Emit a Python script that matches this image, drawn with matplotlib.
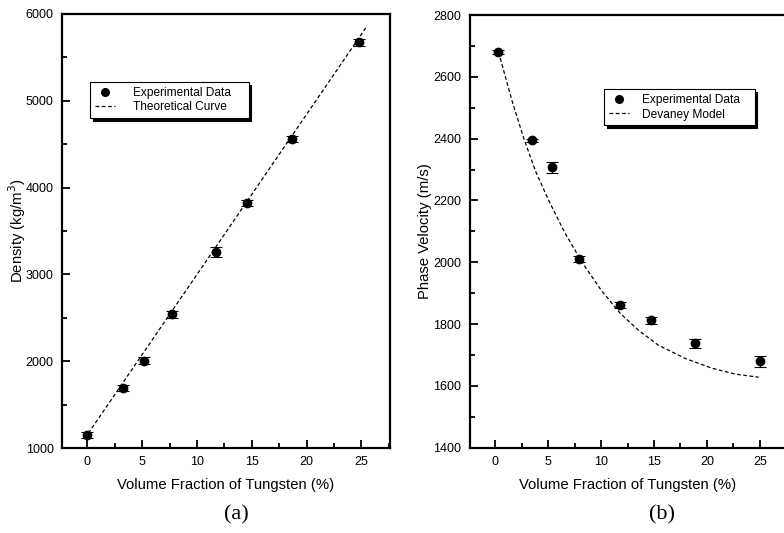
import matplotlib
matplotlib.use("Agg")
import matplotlib.pyplot as plt
from matplotlib.lines import Line2D
from matplotlib.ticker import MultipleLocator

plt.rcParams['font.family'] = ['Liberation Sans', 'DejaVu Sans']

# (a) density vs volume fraction
dens_x = [0.0, 3.3, 5.15, 7.75, 11.7, 14.6, 18.7, 24.8]
dens_y = [1150, 1695, 2005, 2540, 3260, 3826, 4556, 5674]
dens_err = [40, 35, 40, 40, 60, 35, 35, 40]
theory_x = [0.1, 25.4]
theory_y = [1170, 5842]

# (b) phase velocity vs volume fraction
vel_x = [0.23, 3.5, 5.33, 7.9, 11.8, 14.75, 18.9, 25.05]
vel_y = [2680, 2394, 2307, 2010, 1861, 1812, 1738, 1680]
vel_err = [6, 6, 18, 10, 10, 12, 15, 18]
dev_x = [0.3, 0.6, 1.6, 2.7, 3.8, 5.05, 6.5, 8.2, 10.0, 11.8, 13.6, 15.4, 18.0, 20.5, 22.7, 24.9]
dev_y = [2680, 2644, 2520, 2400, 2295, 2200, 2100, 2000, 1910, 1835, 1778, 1732, 1688, 1657, 1638, 1628]

xlabel = 'Volume Fraction of Tungsten (%)'

fig = plt.figure(figsize=(7.84, 5.33), dpi=100)
ax1 = fig.add_axes([62/784, 1-448/533, 328/784, 434/533])
ax2 = fig.add_axes([469.7/784, 1-447.7/533, 316.3/784, 432.7/533])

dash = (0, (3, 2))


def style_axes(ax, ymajor, yminor):
    ax.xaxis.set_major_locator(MultipleLocator(5))
    ax.xaxis.set_minor_locator(MultipleLocator(2.5))
    ax.yaxis.set_major_locator(MultipleLocator(ymajor))
    ax.yaxis.set_minor_locator(MultipleLocator(yminor))
    ax.tick_params(which='both', direction='in', top=False, right=False,
                   labelsize=9, width=1.3, pad=6)
    ax.tick_params(which='major', length=6)
    ax.tick_params(which='minor', length=3.5)
    for s in ax.spines.values():
        s.set_linewidth(1.6)
    ax.set_xlabel(xlabel, fontsize=10.7, labelpad=7)


def add_legend(ax, labels, anchor, textpad, pad_spaces):
    handles = [
        Line2D([], [], ls='none', marker='o', color='k', ms=5.5),
        Line2D([], [], ls=dash, color='k', lw=0.9),
    ]
    # trailing spaces widen the box like the original
    labels = [lab + ' ' * pad_spaces for lab in labels]
    leg = ax.legend(handles, labels, loc='upper left', bbox_to_anchor=anchor,
                    borderaxespad=0, fontsize=8.6, frameon=True, fancybox=False,
                    edgecolor='k', framealpha=1, handlelength=1.7,
                    handletextpad=textpad, labelspacing=0.2, borderpad=0.4,
                    shadow={'color': 'black', 'alpha': 1})
    leg.get_frame().set_linewidth(0.8)


# panel (a)
ax1.plot(theory_x, theory_y, ls=dash, color='k', lw=0.9)
ax1.errorbar(dens_x, dens_y, yerr=dens_err, fmt='o', color='k', ms=6,
             capsize=4.5, elinewidth=0.8, capthick=0.8)
ax1.set_xlim(-2.3, 27.6)
ax1.set_ylim(1000, 6000)
style_axes(ax1, 1000, 500)
ax1.set_ylabel('Density (kg/m$^3$)', fontsize=10.7, labelpad=-2)
add_legend(ax1, ['Experimental Data', 'Theoretical Curve'], (0.085, 0.843), 1.5, 4)

# panel (b)
ax2.plot(dev_x, dev_y, ls=dash, color='k', lw=0.9)
ax2.errorbar(vel_x, vel_y, yerr=vel_err, fmt='o', color='k', ms=6,
             capsize=4.5, elinewidth=0.8, capthick=0.8)
ax2.set_xlim(-2.42, 27.48)
ax2.set_ylim(1400, 2800)
style_axes(ax2, 200, 100)
ax2.spines['right'].set_visible(False)
ax2.set_ylabel('Phase Velocity (m/s)', fontsize=10.7, labelpad=1)
add_legend(ax2, ['Experimental Data', 'Devaney Model'], (0.424, 0.828), 1.1, 3)

fig.text(236/784, 1-515/533, '(a)', family='Liberation Serif', fontsize=16,
         ha='center', va='center')
fig.text(662/784, 1-515/533, '(b)', family='Liberation Serif', fontsize=16,
         ha='center', va='center')

fig.savefig('out.png', dpi=100)
